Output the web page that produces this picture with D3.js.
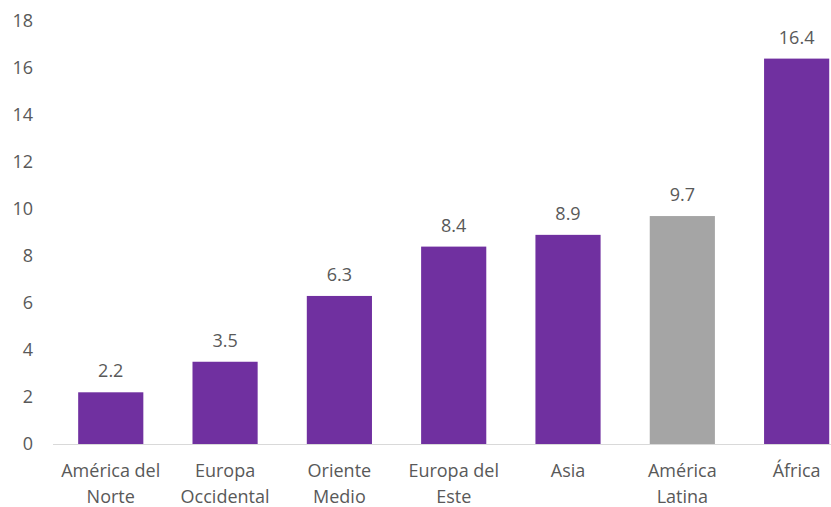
<!DOCTYPE html>
<html>
<head>
<meta charset="UTF-8">
<title></title>
<script src="https://cdn.jsdelivr.net/npm/d3@7"></script>
<style>
  body { margin: 0; background: #fff; }
  text { font-family: "Open Sans", sans-serif; fill: #595959; }
</style>
</head>
<body>
<svg width="831" height="507"></svg>
<script>
// datos
var regions = [["América del", "Norte"], ["Europa", "Occidental"], ["Oriente", "Medio"],
               ["Europa del", "Este"], ["Asia"], ["América", "Latina"], ["África"]];
var values = [2.2, 3.5, 6.3, 8.4, 8.9, 9.7, 16.4];
var highlight = [false, false, false, false, false, true, false];
var yTicks = [0, 2, 4, 6, 8, 10, 12, 14, 16, 18];

var svg = d3.select("svg");
var keys = d3.range(values.length);

var x = d3.scaleBand()
    .domain(keys)
    .range([53.6, 853.8])
    .paddingInner(0.43)
    .paddingOuter(0.215);

var y = d3.scaleLinear()
    .domain([0, 18])
    .range([444, 21]);

// eje y
var yAxis = svg.append("g")
    .attr("transform", "translate(53,0)")
    .call(d3.axisLeft(y).tickValues(yTicks).tickSize(0).tickPadding(20));
yAxis.select(".domain").remove();
yAxis.selectAll("text")
    .style("font-size", "18px")
    .attr("fill", "#595959");

// barras
svg.selectAll("rect.bar")
    .data(keys)
    .enter()
    .append("rect")
    .attr("class", "bar")
    .attr("x", function(i){ return x(i); })
    .attr("y", function(i){ return y(values[i]); })
    .attr("width", x.bandwidth())
    .attr("height", function(i){ return y(0) - y(values[i]); })
    .attr("fill", function(i){ return highlight[i] ? "#A5A5A5" : "#7030A0"; });

// linea base
svg.append("line")
    .attr("x1", 53).attr("x2", 831)
    .attr("y1", y(0) + 0.5).attr("y2", y(0) + 0.5)
    .attr("stroke", "#D9D9D9")
    .attr("stroke-width", 1);

// etiquetas de valor
svg.selectAll("text.val")
    .data(keys)
    .enter()
    .append("text")
    .attr("class", "val")
    .attr("x", function(i){ return x(i) + x.bandwidth() / 2; })
    .attr("y", function(i){ return y(values[i]) - 15; })
    .attr("text-anchor", "middle")
    .style("font-size", "18px")
    .text(function(i){ return values[i].toFixed(1); });

// etiquetas de categoria
var cat = svg.selectAll("text.cat")
    .data(keys)
    .enter()
    .append("text")
    .attr("class", "cat")
    .attr("text-anchor", "middle")
    .style("font-size", "18px");
cat.each(function(i){
    var t = d3.select(this);
    regions[i].forEach(function(line, j){
        t.append("tspan")
            .attr("x", x(i) + x.bandwidth() / 2)
            .attr("y", 477 + j * 26)
            .text(line);
    });
});
</script>
</body>
</html>
